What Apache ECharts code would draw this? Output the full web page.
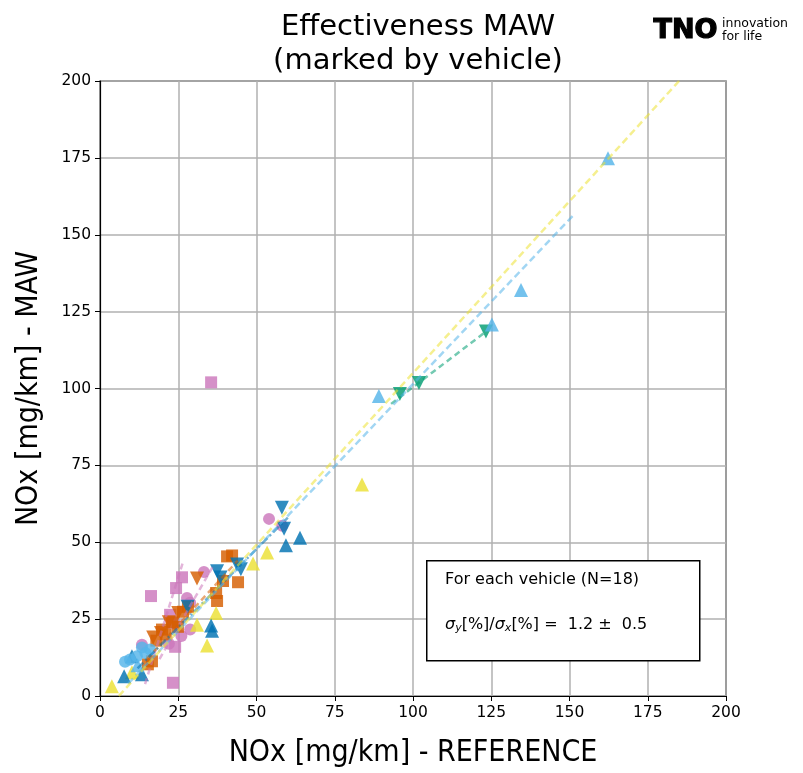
<!DOCTYPE html>
<html>
<head>
<meta charset="utf-8">
<script src="https://cdn.jsdelivr.net/npm/echarts@6/dist/echarts.min.js"></script>
<style>
  html, body { margin: 0; padding: 0; background: #fff; }
  #main { width: 803px; height: 773px; }
</style>
</head>
<body>
<div id="main"></div>
<script>
// measured points per vehicle group [NOx reference, NOx MAW]
const blueUp = [[59.4, 49], [63.9, 51.5], [35.5, 22.9], [35.8, 21.2], [7.7, 6.4], [13.4, 7.1], [10.2, 12.9]];
const blueDown = [[58.1, 61.2], [58.8, 54.4], [43.8, 42.8], [45, 41.2], [37.4, 40.6], [38.5, 38.5], [28, 29]];
const orangeSq = [[40.6, 45.4], [42.2, 45.7], [44.1, 37], [39.3, 37.4], [37.1, 33.5], [37.4, 30.9], [28.1, 29], [26.5, 27.4],
  [19.8, 21.6], [24.9, 22.5], [15.3, 10.3], [16.6, 11.3], [21, 20], [18, 18], [23, 24]];
const orangeDown = [[31, 38.2], [17, 19], [22, 24], [25, 27], [19.5, 20.5]];
const pinkCirc = [[54, 57.6], [58.2, 55.4], [33.2, 40.3], [27.8, 31.9], [28.8, 30.3], [28.8, 21.6], [26, 19.5], [13.4, 16.7], [22, 17]];
const pinkSq = [[35.5, 102], [16.3, 32.5], [26.2, 38.6], [24.3, 35.1], [22.4, 26.4], [23.3, 23.8], [23.3, 4.3], [24, 16]];
const ltblueUp = [[89.1, 97.6], [125.2, 120.8], [134.5, 132], [162.3, 174.9], [12, 10]];
const ltblueCirc = [[8, 11.1], [9.6, 11.9], [11.8, 12.9], [13.4, 15.8], [16, 15.1], [14.5, 14]];
const greenDown = [[95.8, 98.2], [101.9, 101.8], [123.3, 118.5]];
const yellowUp = [[3.8, 3.2], [34.2, 16.4], [37.1, 27], [53.4, 46.7], [48.9, 43.1], [83.7, 68.8], [31, 23.2], [10.2, 7.7]];

// fitted lines per vehicle (start, end)
const yellowFit = [[6, 0], [185, 200]];
const ltblueFit = [[9, 4], [151.4, 156.5]];
const greenFit = [[93, 95], [123.3, 118.5]];
const blueFit = [[12, 9], [60, 58]];
const pinkFitA = [[14.4, 3.9], [26.5, 43.5]];
const pinkFitB = [[19, 12], [36, 42]];
const orangeFit = [[15, 12], [44, 44]];

const axisTicks = [0, 25, 50, 75, 100, 125, 150, 175, 200];

const C = { blue: '#0173b2', green: '#029e73', orange: '#d55e00', pink: '#cc78bc', yellow: '#ece133', ltblue: '#56b4e9' };

const groups = [
  { data: pinkSq, color: C.pink, symbol: 'rect', rot: 0 },
  { data: pinkCirc, color: C.pink, symbol: 'circle', rot: 0 },
  { data: orangeSq, color: C.orange, symbol: 'rect', rot: 0 },
  { data: orangeDown, color: C.orange, symbol: 'triangle', rot: 180 },
  { data: yellowUp, color: C.yellow, symbol: 'triangle', rot: 0 },
  { data: blueUp, color: C.blue, symbol: 'triangle', rot: 0 },
  { data: blueDown, color: C.blue, symbol: 'triangle', rot: 180 },
  { data: greenDown, color: C.green, symbol: 'triangle', rot: 180 },
  { data: ltblueCirc, color: C.ltblue, symbol: 'circle', rot: 0 },
  { data: ltblueUp, color: C.ltblue, symbol: 'triangle', rot: 0 }
];

const fits = [
  { data: pinkFitA, color: C.pink, dash: [6, 4] },
  { data: pinkFitB, color: C.pink, dash: [6, 4] },
  { data: orangeFit, color: C.orange, dash: [6, 4] },
  { data: blueFit, color: C.blue, dash: [8, 3, 2, 3] },
  { data: greenFit, color: C.green, dash: [6, 4] },
  { data: ltblueFit, color: C.ltblue, dash: [7, 4] },
  { data: yellowFit, color: C.yellow, dash: [7, 4] }
];

const chart = echarts.init(document.getElementById('main'));

const scatterSeries = groups.map(g => ({
  type: 'scatter',
  data: g.data,
  symbol: g.symbol,
  symbolSize: g.symbol === 'triangle' ? 14 : 12,
  symbolRotate: g.rot,
  itemStyle: { color: g.color, opacity: 0.82 },
  z: 2
}));

const lineSeries = fits.map(f => ({
  type: 'line',
  data: f.data,
  showSymbol: false,
  symbol: 'none',
  lineStyle: { color: f.color, width: 2.5, type: f.dash, opacity: 0.55 },
  z: 3,
  silent: true
}));

const axisCommon = {
  type: 'value',
  min: 0,
  max: 200,
  interval: 25,
  axisLine: { show: true, lineStyle: { color: '#000', width: 1.2 } },
  axisTick: { show: true, length: 5, lineStyle: { color: '#000', width: 1 } },
  axisLabel: {
    color: '#000', fontSize: 15.5, fontFamily: 'DejaVu Sans', margin: 9,
    formatter: v => axisTicks.includes(v) ? String(v) : ''
  },
  splitLine: { show: true, lineStyle: { color: '#b0b0b0', width: 1.5 } }
};

const nameStyle = { fontFamily: 'DejaVu Sans Condensed, Liberation Sans Narrow, sans-serif', fontSize: 30, color: '#000' };

chart.setOption({
  backgroundColor: '#fff',
  animation: false,
  grid: { left: 100, right: 77, top: 81, bottom: 71, show: true, borderColor: '#000', borderWidth: 1.2, backgroundColor: 'transparent' },
  title: {
    text: 'Effectiveness MAW\n(marked by vehicle)',
    left: 413, top: 5, textAlign: 'center',
    textStyle: { fontFamily: 'DejaVu Sans', fontSize: 29, fontWeight: 'normal', color: '#000', lineHeight: 34 }
  },
  xAxis: {
    ...axisCommon,
    name: 'NOx [mg/km] - REFERENCE',
    nameLocation: 'middle',
    nameGap: 42,
    nameTextStyle: nameStyle
  },
  yAxis: {
    ...axisCommon,
    name: 'NOx [mg/km] - MAW',
    nameLocation: 'middle',
    nameGap: 56,
    nameTextStyle: nameStyle
  },
  series: [...scatterSeries, ...lineSeries],
  graphic: [
    {
      type: 'rect', left: 426, top: 560, z: 10,
      shape: { width: 273, height: 100 },
      style: { fill: '#fff', stroke: '#000', lineWidth: 1.5 }
    },
    {
      type: 'text', left: 445, top: 572, z: 11,
      style: { text: 'For each vehicle (N=18)', fontFamily: 'DejaVu Sans', fontSize: 16, fill: '#000' }
    },
    {
      type: 'text', left: 445, top: 617, z: 11,
      style: {
        text: '{s|σ}{sub|y}{n|[%]/}{s|σ}{sub|x}{n|[%] =  1.2 ±  0.5}',
        rich: {
          s: { fontFamily: 'DejaVu Sans', fontStyle: 'italic', fontSize: 16, fill: '#000' },
          sub: { fontFamily: 'DejaVu Sans', fontStyle: 'italic', fontSize: 11, fill: '#000', verticalAlign: 'bottom', padding: [6, 0, 0, 0] },
          n: { fontFamily: 'DejaVu Sans', fontSize: 16, fill: '#000' }
        }
      }
    },
    {
      type: 'text', left: 653, top: 17, z: 11,
      style: { text: 'TNO', fontFamily: 'DejaVu Sans', fontWeight: 'bold', fontSize: 27, fill: '#000', stroke: '#000', lineWidth: 1.2 }
    },
    {
      type: 'text', left: 722, top: 17, z: 11,
      style: { text: 'innovation\nfor life', fontFamily: 'DejaVu Sans', fontSize: 12.5, lineHeight: 13, fill: '#000' }
    }
  ]
});
</script>
</body>
</html>
